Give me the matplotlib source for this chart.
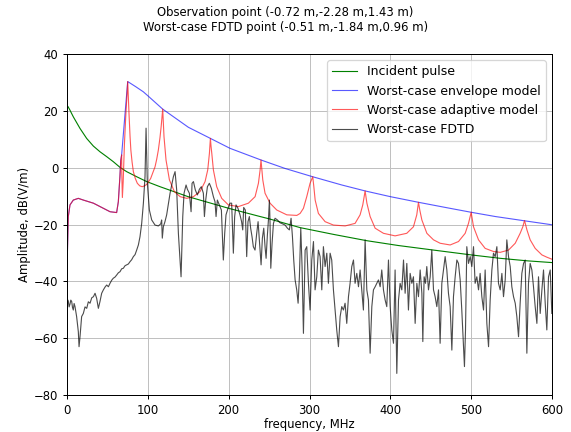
import matplotlib
matplotlib.use('Agg')
import matplotlib.pyplot as plt

plt.rcParams['font.size'] = 9.3

# incident pulse (green)
inc_freq = [0, 1, 3, 7.8, 16.1, 24.3, 32.6, 40.8, 49, 57.3, 65.6, 73.8, 86.3, 98.6, 115.1,
            149.8, 200, 238.9, 250, 288.4, 330, 370.9, 410, 453.4, 500, 535.9, 570, 600]
inc_db = [21.0, 21.6, 20.6, 17.9, 13.8, 10.3, 7.6, 5.6, 3.9, 2.1, 0.1, -1.4, -3.2, -4.9, -6.7,
          -10.2, -14.3, -17.2, -18.0, -21.1, -23.5, -25.7, -27.4, -29.0, -30.7, -31.9, -32.8, -33.4]

# low-frequency part shared by envelope and adaptive model
low_freq = [0, 0.5, 1.6, 3.7, 7.8, 14, 20.2, 32.7, 45, 53.2, 61.4, 63.5, 65.5, 66.5, 67.6]
low_db = [-40.0, -30.0, -17.2, -13.1, -11.4, -10.8, -11.4, -12.5, -14.3, -15.5, -15.8, -12.0, -3.0, 2.5, 4.5]

# worst-case envelope model (blue)
env_freq = [75.1, 85, 94.4, 100, 118.4, 150.2, 177.4, 201.7, 240, 270, 304, 340, 369, 400,
            435, 470, 500, 530, 566, 600]
env_db = [30.3, 28.5, 26.7, 25.3, 20.6, 14.2, 10.3, 6.8, 2.7, -0.3, -3.2, -6.1, -8.2, -10.2,
          -12.2, -14.1, -15.7, -17.2, -18.7, -20.1]

# worst-case adaptive model (red), after the shared low part
ada_freq = [67.8, 68.5, 69.5, 71, 72.5, 74, 75.1,
            76.7, 78, 79, 80.5, 82.1, 84.5, 87, 90, 93, 96, 99, 103.5, 107, 108.9, 111, 113, 115, 116.5, 117.6, 118.4,
            119.2, 120, 122.5, 126.7, 132.8, 139.9, 148.1, 156.4, 164.6, 170.8, 174.1, 176.2, 177.4,
            178.2, 179.1, 181.1, 185.2, 191.4, 199.6, 212, 224.4, 232.7, 236.8, 238.9, 239.5, 240,
            241, 242.2, 245, 251.2, 259.5, 271.9, 284.3, 288.4, 292.5, 296.6, 300.7, 302.8, 304,
            305.3, 307, 311, 319.3, 329.6, 344.1, 356.4, 362.6, 365.9, 368, 368.8,
            370, 371, 375, 381.2, 391.5, 405.9, 420.3, 428.6, 432.7, 434.8,
            436.5, 439, 445.2, 453.4, 461.6, 474, 484.3, 492.6, 496.7, 500,
            501.3, 502.9, 509.1, 517.3, 527.6, 535.9, 546.2, 554.5, 560.6, 563.9, 566,
            567.3, 569, 573, 579.2, 587.5, 593.6, 599.8]
ada_db = [-2.0, -10.5, -5.0, 8.0, 17.0, 24.5, 30.3,
          19.1, 11.0, 6.2, 2.0, -1.4, -3.8, -5.5, -6.4, -6.7, -6.4, -5.8, -3.8, -1.2, 0.3, 3.0, 6.2, 10.5, 14.5, 18.0, 20.6,
          15.5, 10.9, 2.7, -4.3, -8.4, -10.2, -10.8, -10.2, -8.4, -4.9, -0.8, 5.1, 10.3,
          7.5, 5.1, -0.8, -6.7, -10.8, -13.1, -13.7, -12.5, -10.2, -5.5, -0.8, 1.0, 2.7,
          -0.5, -4.3, -9.0, -12.5, -14.9, -16.6, -16.8, -16.1, -14.3, -10.2, -5.5, -4.0, -3.2,
          -6.5, -11.4, -16.1, -19.0, -20.2, -20.5, -19.6, -16.6, -13.1, -9.6, -8.2,
          -10.5, -12.5, -17.2, -21.3, -23.1, -24.0, -23.1, -20.8, -16.6, -12.2,
          -15.0, -18.4, -23.1, -25.4, -26.6, -27.2, -26.0, -23.1, -19.6, -15.7,
          -18.0, -20.8, -25.4, -28.4, -29.5, -29.8, -29.0, -26.6, -23.1, -20.8, -18.6,
          -20.0, -21.9, -25.4, -28.4, -30.7, -31.5, -32.2]

# worst-case FDTD (black)
fdtd_freq = [0.0, 0.8, 1.65, 2.6, 3.7, 4.7, 5.8, 6.8, 7.8, 8.8, 9.9, 11.9, 14.0, 14.9, 16.1, 18.1,
             20.2, 22.3, 24.4, 26.4, 28.5, 30.6, 32.7, 34.7, 36.7, 38.8, 40.8, 42.9, 45.0, 47.1,
             49.1, 51.2, 53.2, 55.3, 57.3, 59.4, 61.4, 63.5, 65.6, 67.6, 69.7, 71.8, 73.8, 75.9,
             77.9, 80.0, 82.1, 84.2, 86.2, 88.3, 90.3, 92.4, 94.5, 96.5, 97.8, 99.4, 101.9, 104.8, 108.9,
             113.0, 115.9, 117.1, 117.9, 119.2, 121.2, 123.3, 127.5, 131.6, 133.7, 135.7, 137.8,
             139.9, 141.1,
             143.2, 144.8, 147.3, 148.9, 151.4, 153.5, 154.7, 156.4, 158.8, 161.3, 163.8, 166.2,
             168.7, 170.0, 171.6, 173.7, 176.1, 178.6, 181.1, 183.1, 184.4, 186.0, 188.5, 191.0,
             193.4, 195.1, 196.7, 199.2, 201.6, 203.7, 205.8, 207.4, 209.1, 211.5, 214.0, 216.0,
             217.4, 218.6, 220.6, 222.3, 223.9, 225.6, 227.2, 228.9, 230.5, 232.6, 234.7, 236.4,
             238.0, 239.2, 240.1, 241.7, 243.4, 245.0, 246.3, 247.9, 249.2, 250.4, 251.2, 252.1,
             253.7, 255.4, 257.4, 260.3, 263.6, 266.9, 269.8, 272.7, 275.1, 277.2, 278.9, 280.5,
             282.2, 284.2, 285.9, 287.5, 289.2, 290.8, 292.5,
             294.6, 296.6, 298.7, 300.7, 302.8, 304.9, 306.9, 309.0, 311.0, 313.1, 315.2, 317.2,
             319.3, 321.4, 323.4, 325.5, 327.5, 329.6, 331.7, 333.7, 335.8, 337.9, 339.9, 342.0,
             344.0, 346.1, 348.2, 350.2, 352.3, 354.4, 356.4, 358.5, 360.6, 362.6, 364.7, 366.7,
             368.8, 370.9, 372.9, 375.0, 377.1, 379.1, 381.2, 383.2, 385.3, 387.4, 389.4, 391.5,
             393.6, 395.6, 397.7, 399.8, 401.8, 403.9, 405.9, 408.0, 410.1, 412.1, 414.2, 416.3,
             418.3, 420.4, 422.4, 424.5, 426.6, 428.6, 430.7, 432.8, 434.8,
             436.9, 439.0, 440.2, 441.8, 443.5, 445.1, 447.2, 449.3, 451.3, 453.4, 455.4, 457.5,
             459.6, 461.6, 463.7, 465.8, 467.8, 469.9, 471.9, 474.0, 476.1, 478.1, 480.2, 482.3,
             484.3, 486.4, 488.4, 490.5, 491.7, 493.0, 494.6, 496.7, 498.8, 500.8, 502.9, 504.9,
             507.0, 509.1, 511.1, 513.2, 515.3, 517.3, 519.4, 521.5, 523.5, 525.6, 527.6, 529.7,
             531.8, 533.8, 535.9, 538.0, 540.0, 542.1, 544.1, 546.2, 548.3, 550.3, 552.4, 554.5,
             556.5, 558.6, 560.6, 562.7, 564.8, 566.8, 568.9, 570.9, 573.0, 575.1, 577.1, 579.2,
             581.3, 583.3, 585.4, 587.5, 589.5, 591.6, 593.6, 595.7, 597.8, 599.8]
fdtd_db = [-48.9, -46.5, -47.1, -49.0, -48.0, -46.6, -47.1, -49.2, -50.1, -47.8, -48.9, -52.4, -57.7, -63.0, -59.5, -52.4,
           -51.3, -49.0, -49.5, -47.2, -47.7, -45.8, -45.4, -44.2, -46.0, -49.5, -47.1, -44.2, -43.0, -42.0,
           -41.3, -41.9, -40.7, -39.6, -38.9, -38.5, -37.8, -37.0, -36.6, -35.6, -35.4, -34.5, -34.2, -33.9,
           -33.1, -32.4, -31.3, -30.6, -29.0, -27.2, -24.3, -19.6, -12.5, -3.2, 13.9, -5.5, -14.9, -18.4, -20.2,
           -20.5, -19.8, -18.4, -24.8, -20.8, -19.0, -16.6, -9.0, -3.2, -1.4, -7.9, -23.1,
           -32.5, -38.4,
           -17.2, -9.0, -6.1, -7.6, -9.0, -15.5, -5.5, -4.9, -7.9, -9.6, -7.6, -6.7,
           -9.0, -17.2, -11.4, -6.7, -5.5, -7.3, -10.2, -12.0, -17.2, -11.4, -13.1, -14.9,
           -32.5, -23.1, -16.6, -14.3, -12.5, -12.5, -30.1, -17.2, -13.1, -14.3, -16.6, -19.0,
           -21.9, -14.0, -14.9, -31.3, -19.0, -17.2, -21.3, -24.3, -27.8, -29.0, -23.1, -19.0,
           -25.4, -30.1, -34.2, -24.8, -21.3, -27.8, -31.9, -23.7, -18.4, -11.4, -19.6, -35.4,
           -26.6, -19.6, -17.8, -18.4, -19.4, -19.8, -20.2, -21.3, -21.9, -17.8, -24.3, -32.5,
           -39.5, -43.0, -47.7, -38.4, -21.3, -34.8, -58.3,
           -29.0, -27.8, -40.7, -50.1, -32.5, -26.0, -43.0, -38.4, -29.0, -31.3, -43.0, -27.8,
           -34.8, -30.1, -40.7, -30.1, -32.5, -43.0, -50.1, -57.1, -63.0, -52.4, -48.9, -50.1,
           -47.7, -54.8, -45.4, -40.7, -34.8, -32.5, -40.7, -37.2, -41.9, -36.0, -43.0, -50.1,
           -25.4, -43.0, -46.6, -65.3, -48.9, -43.0, -41.9, -40.7, -39.5, -41.9, -36.0, -43.0,
           -46.6, -48.9, -32.5, -48.9, -57.1, -61.8, -36.0, -72.4, -46.6, -40.7, -43.0, -32.5,
           -44.2, -33.7, -50.1, -37.2, -40.7, -38.4, -54.8, -40.7, -45.4,
           -36.0, -44.2, -61.2, -38.4, -40.7, -34.8, -43.0, -38.4, -29.0, -43.0, -45.4, -48.9,
           -43.0, -61.8, -40.7, -36.0, -31.3, -36.0, -44.2, -48.9, -64.2, -45.4, -38.4, -32.5,
           -33.7, -39.5, -50.1, -63.0, -70.0, -57.1, -27.8, -33.7, -31.3, -34.8, -27.8, -40.7,
           -38.4, -43.0, -37.2, -45.4, -50.1, -36.0, -54.8, -63.0, -46.6, -36.0, -30.1, -31.3,
           -27.8, -40.7, -43.0, -37.2, -45.4, -39.5, -25.4, -31.3, -34.8, -41.9, -45.4, -47.7,
           -52.4, -59.5, -47.7, -37.2, -33.7, -32.5, -65.3, -40.7, -33.7, -36.0, -41.9, -48.9,
           -54.8, -38.4, -51.3, -43.0, -36.0, -47.7, -57.1, -38.4, -36.0, -51.3]

fig = plt.figure(figsize=(571 / 90, 432 / 90), dpi=90)
ax = fig.add_axes([67 / 571, 1 - 395 / 432, (552 - 67) / 571, (395 - 54) / 432])

ax.plot(inc_freq, inc_db, color='green', lw=0.9, label='Incident pulse')
ax.plot(low_freq + env_freq, low_db + env_db, color='blue', lw=0.9, alpha=0.65,
        label='Worst-case envelope model')
ax.plot(low_freq + ada_freq, low_db + ada_db, color='red', lw=0.9, alpha=0.65,
        label='Worst-case adaptive model')
ax.plot(fdtd_freq, fdtd_db, color='black', lw=0.9, alpha=0.7, label='Worst-case FDTD')

ax.set_xlim(0, 600)
ax.set_ylim(-80, 40)
ax.set_xticks(range(0, 601, 100))
ax.set_yticks(range(-80, 41, 20))
ax.grid(True, color='#c0c0c0', lw=0.8)
ax.set_xlabel('frequency, MHz', labelpad=1)
ax.set_ylabel('Amplitude, dB(V/m)', labelpad=2)
ax.legend(loc='upper right', fontsize=10)
fig.suptitle('Observation point (-0.72 m,-2.28 m,1.43 m)\n'
             'Worst-case FDTD point (-0.51 m,-1.84 m,0.96 m)', y=0.985, fontsize=9.3)

fig.savefig('out.png', dpi=90)
